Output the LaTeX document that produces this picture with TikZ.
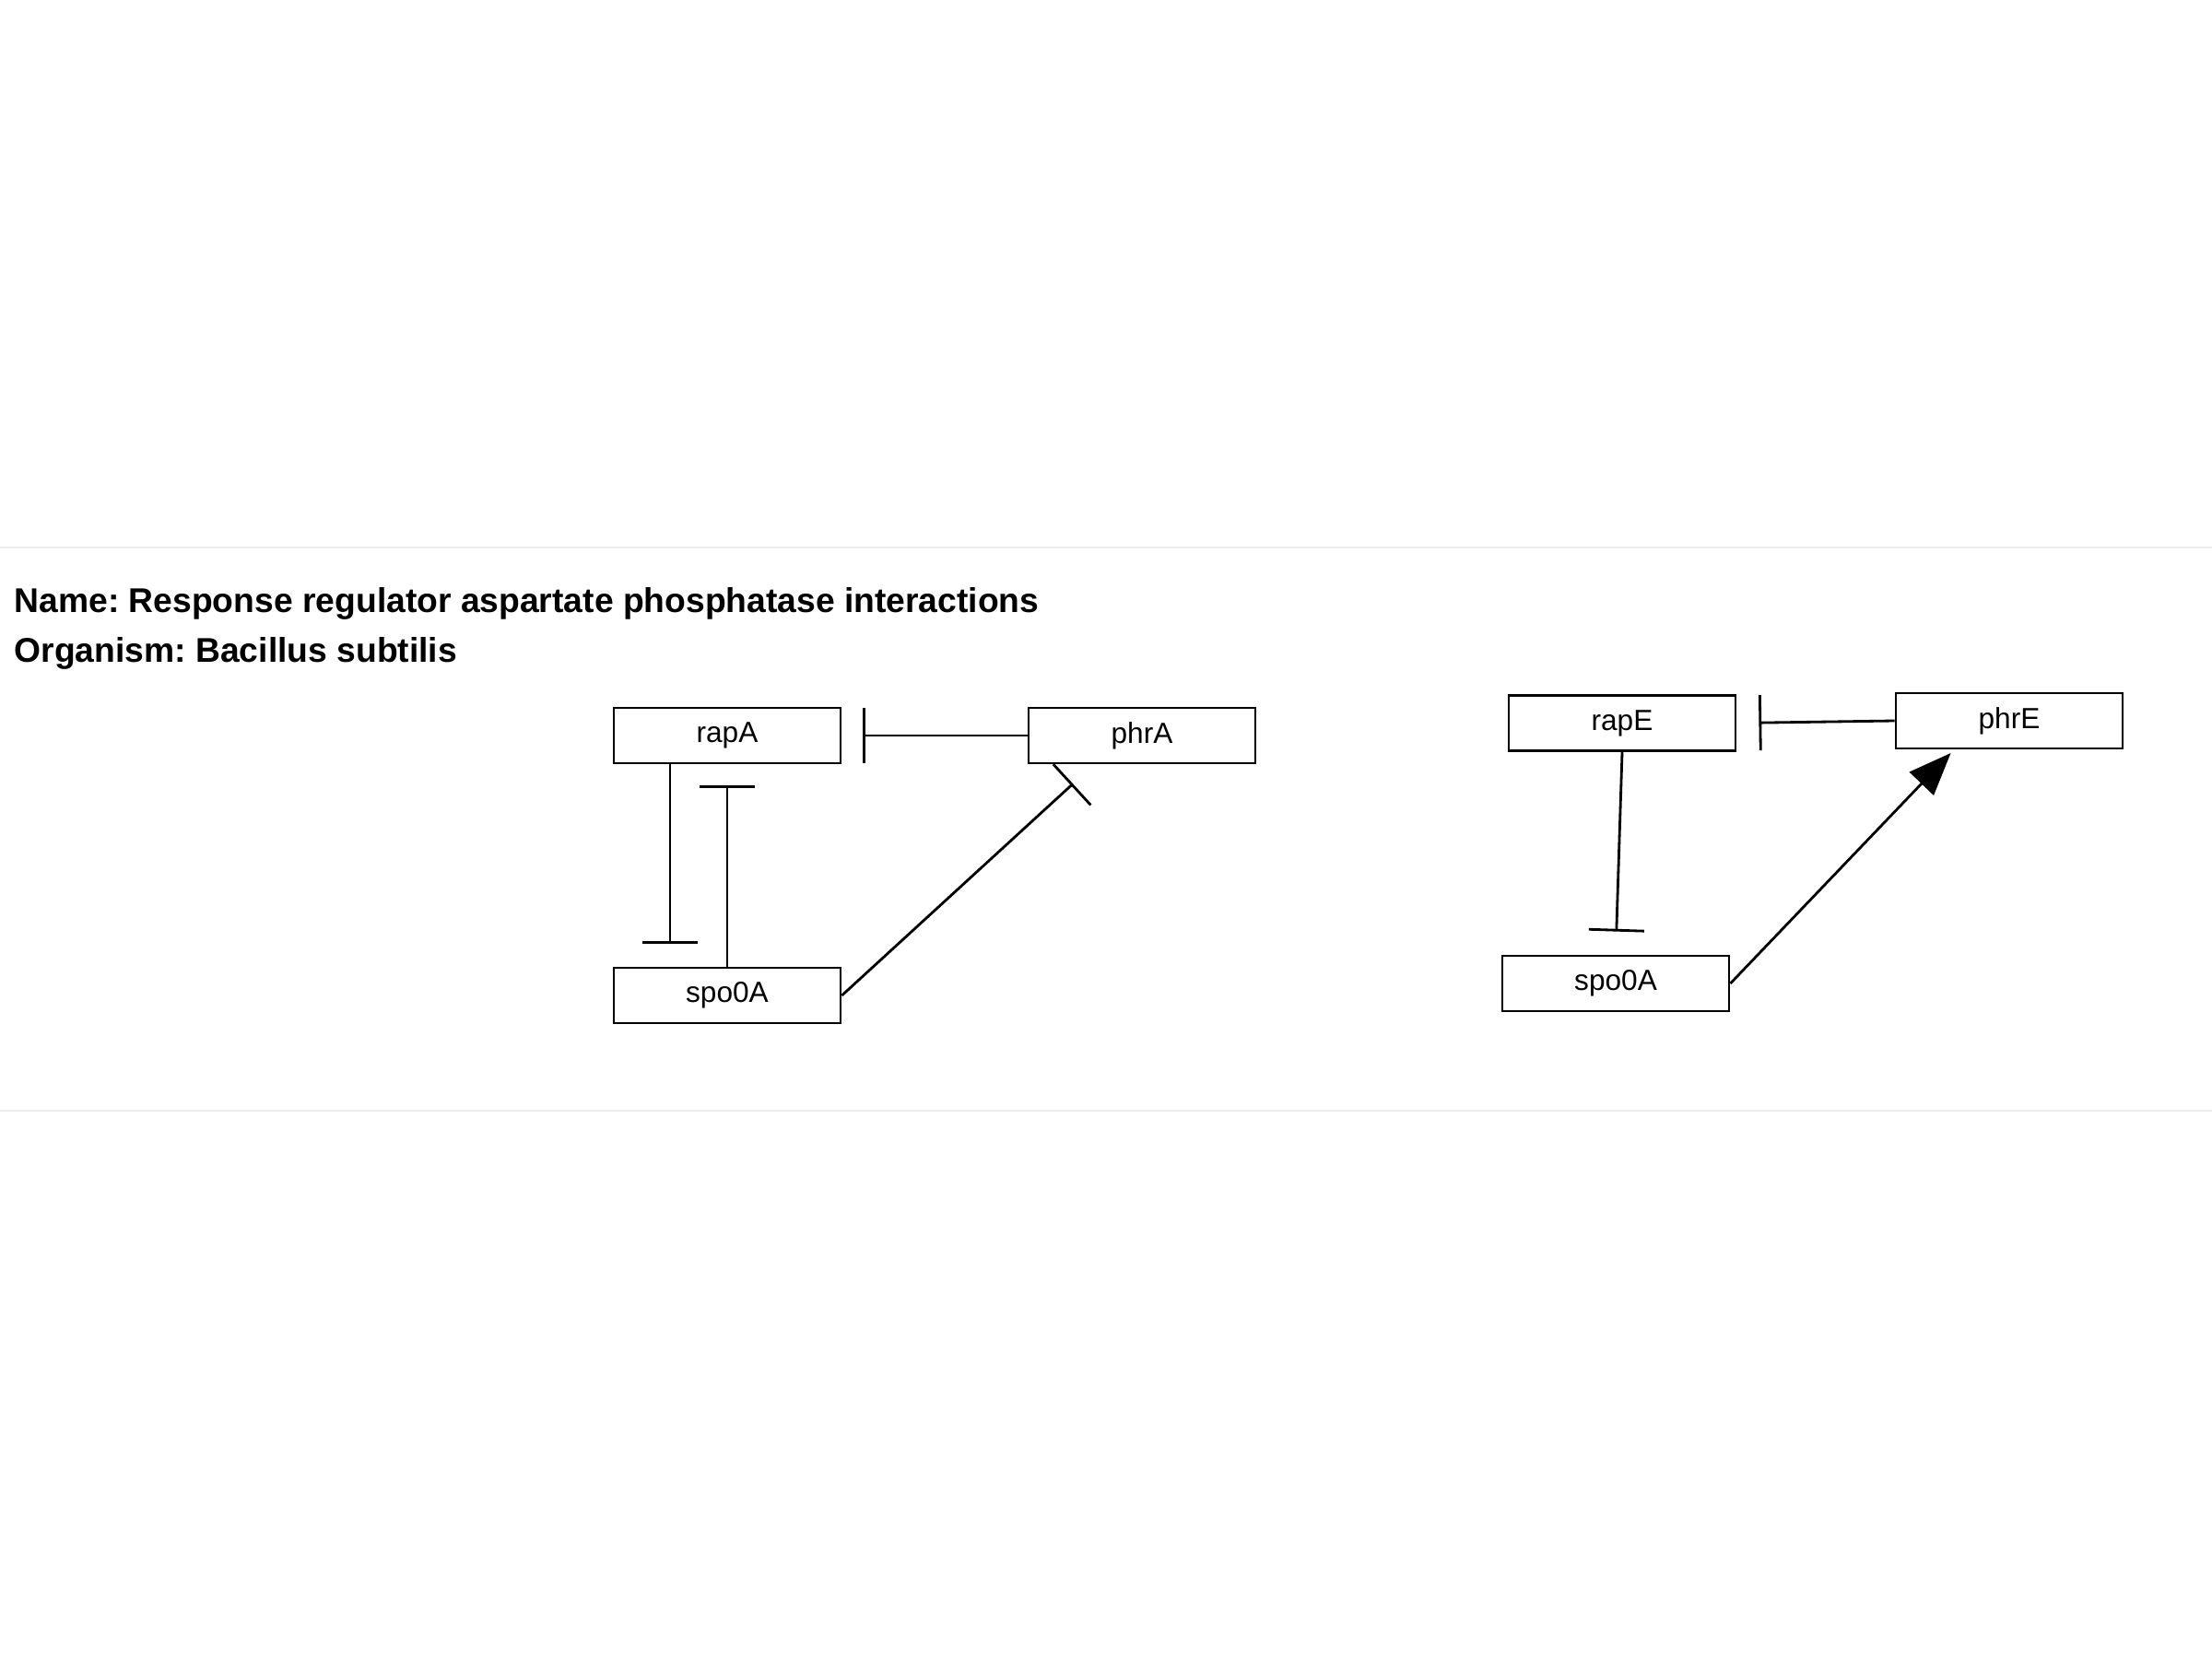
\documentclass[tikz,border=0pt]{standalone}
\usepackage{fontspec}
\setmainfont{Liberation Sans}
\usetikzlibrary{arrows.meta}
\frenchspacing

\begin{document}
\begin{tikzpicture}[
	gene/.style={draw, line width=0.8pt, minimum width=2.46cm, minimum height=0.6cm, inner sep=0pt, font=\fontsize{9}{10}\selectfont},
	inhib/.style={line width=0.8pt, -{Bar[width=0.6cm]}},
	activ/.style={line width=0.8pt, -{Triangle[length=0.46cm, width=0.36cm]}},
	sep/.style={black!7, line width=0.6pt},
	title/.style={anchor=base west, inner sep=0pt, font=\bfseries\fontsize{10.6}{12}\selectfont}
]
				\useasboundingbox (0,0) rectangle (24,18);
				\draw[sep] (0,12.06) -- (24,12.06);
				\draw[sep] (0,5.95) -- (24,5.95);
				\node[title] (name) at (0.15,11.36) {Name: Response regulator aspartate phosphatase interactions};
				\node[title] (organism) at (0.15,10.82) {Organism: Bacillus subtilis};
				% left network
				\node[gene] (rapA) at (7.89,10.02) {rapA};
				\node[gene] (phrA) at (12.39,10.02) {phrA};
				\node[gene] (spoA) at (7.89,7.20) {spo0A};
				\draw[inhib, shorten >=0.23cm] (phrA.west) -- (rapA.east);
				\draw[inhib, shorten >=0.25cm] ([xshift=-0.62cm]rapA.south) -- ([xshift=-0.62cm]spoA.north);
				\draw[inhib, shorten >=0.23cm] (spoA.north) -- (rapA.south);
				\draw[inhib, shorten >=0.31cm] (spoA.east) -- ([xshift=-0.52cm]phrA.south);
				% right network
				\node[gene] (rapE) at (17.60,10.155) {rapE};
				\node[gene] (phrE) at (21.80,10.18) {phrE};
				\node[gene] (spoE) at (17.53,7.33) {spo0A};
				\draw[inhib, shorten >=0.24cm] (phrE.west) -- (rapE.east);
				\draw[inhib, shorten >=0.25cm] (rapE.south) -- (spoE.north);
				\draw[activ, shorten >=0.05cm] (spoE.east) -- ([xshift=-0.6cm]phrE.south);
\end{tikzpicture}
\end{document}
